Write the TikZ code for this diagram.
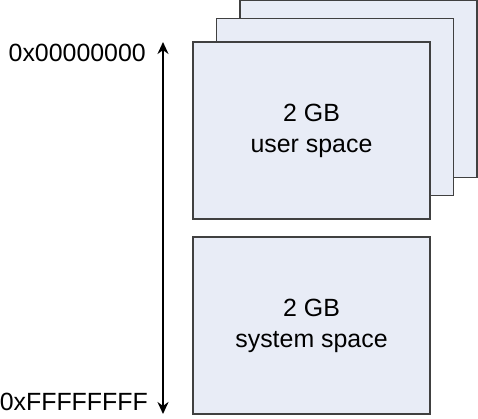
\documentclass[tikz,border=0pt]{standalone}
\usepackage{fontspec}
\setmainfont{Liberation Sans}
\usetikzlibrary{arrows.meta}
\definecolor{spacefill}{HTML}{E8ECF6}
\definecolor{spaceline}{HTML}{404040}
\tikzset{space/.style={draw=spaceline,fill=spacefill,line width=1.3bp,
	minimum width=237bp,minimum height=177bp,inner sep=0pt,align=center,
	font=\fontsize{25}{31}\selectfont}}
\tikzset{addr/.style={anchor=east,inner sep=0pt,font=\fontsize{25}{31}\selectfont}}

\begin{document}
\begin{tikzpicture}[>={Stealth[length=12bp,width=11bp]},x=1bp,y=-1bp]
	\useasboundingbox (0,0) rectangle (478,418);
	% stacked user spaces
	\node[space] (user3) at (358.5,89) {};
	\node[space] (user2) at (335,107) {};
	\node[space] (user1) at (311.5,130.5) {2 GB\\user space};
	\node[space] (system) at (311.5,325.5) {2 GB\\system space};
	% address range
	\coordinate (top) at (163,42);
	\coordinate (bottom) at (163,414);
	\draw[<->,line width=2bp] (top)--(bottom);
	\node[addr] (low) at (146,53) {0x00000000};
	\node[addr] (high) at (148,402) {0xFFFFFFFF};
\end{tikzpicture}
\end{document}
